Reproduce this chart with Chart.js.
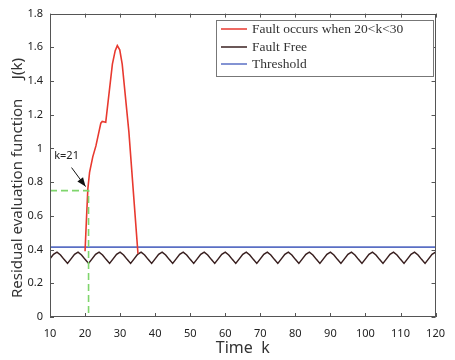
<!DOCTYPE html>
<html><head><meta charset="utf-8">
<script src="https://cdn.jsdelivr.net/npm/chart.js@4/dist/chart.umd.min.js"></script>
<style>html,body{margin:0;padding:0;background:#fff}#wrap{width:455px;height:360px}</style>
</head><body><div id="wrap"><canvas id="c" width="455" height="360"></canvas></div>
<script>
// ---- data ----
const faultFreeK = [10,11,12,13,14,15,16,17,18,19,20,21,22,23,24,25,26,27,28,29,30,31,32,33,34,35,36,37,38,39,40,41,42,43,44,45,46,47,48,49,50,51,52,53,54,55,56,57,58,59,60,61,62,63,64,65,66,67,68,69,70,71,72,73,74,75,76,77,78,79,80,81,82,83,84,85,86,87,88,89,90,91,92,93,94,95,96,97,98,99,100,101,102,103,104,105,106,107,108,109,110,111,112,113,114,115,116,117,118,119,120];
const faultFreeJ = [
 0.345,0.372,0.385,0.368,0.342,
 0.318,0.345,0.372,0.385,0.368,0.342,
 0.318,0.345,0.372,0.385,0.368,0.342,
 0.318,0.345,0.372,0.385,0.368,0.342,
 0.318,0.345,0.372,0.385,0.368,0.342,
 0.318,0.345,0.372,0.385,0.368,0.342,
 0.318,0.345,0.372,0.385,0.368,0.342,
 0.318,0.345,0.372,0.385,0.368,0.342,
 0.318,0.345,0.372,0.385,0.368,0.342,
 0.318,0.345,0.372,0.385,0.368,0.342,
 0.318,0.345,0.372,0.385,0.368,0.342,
 0.318,0.345,0.372,0.385,0.368,0.342,
 0.318,0.345,0.372,0.385,0.368,0.342,
 0.318,0.345,0.372,0.385,0.368,0.342,
 0.318,0.345,0.372,0.385,0.368,0.342,
 0.318,0.345,0.372,0.385,0.368,0.342,
 0.318,0.345,0.372,0.385,0.368,0.342,
 0.318,0.345,0.372,0.385,0.368,0.342,
 0.318,0.345,0.372,0.385
];
const faultK = [20,20.4,20.8,21.3,22.2,23.1,24.5,24.9,25.9,27.8,28.6,29.2,29.9,30.6,32.5,33.9,35.1];
const faultJ = [0.39,0.58,0.76,0.86,0.95,1.015,1.15,1.16,1.155,1.50,1.58,1.61,1.585,1.50,1.10,0.71,0.375];
const thresholdK = [10,120];
const thresholdJ = [0.415,0.415];
const guideK = [10,21,21];
const guideJ = [0.75,0.75,0];
const xTicks = [10,20,30,40,50,60,70,80,90,100,110,120];
const xTickLabels = ['10','20','30','40','50','60','70','80','90','100','110','120'];
const yTicks = [0,0.2,0.4,0.6,0.8,1,1.2,1.4,1.6,1.8];
const yTickLabels = ['0','0.2','0.4','0.6','0.8','1','1.2','1.4','1.6','1.8'];
const seriesLabels = ['Fault occurs when 20<k<30','Fault Free','Threshold'];
const annotationText = 'k=21';
const annotationK = 21, annotationJ = 0.75;
const xTitle = 'Time  k';
const yTitle = 'Residual evaluation function     J(k)';

const pts = (xs, ys) => xs.map((x, i) => ({x: x, y: ys[i]}));
const tickFont = {family: 'Noto Sans', size: 11};
const axisColor = '#555';

const framePlugin = {
  id: 'frame',
  afterDatasetsDraw(chart) {
    const {ctx, chartArea: a, scales: {x, y}} = chart;
    ctx.save();
    // box
    ctx.strokeStyle = axisColor; ctx.lineWidth = 1;
    ctx.strokeRect(Math.round(a.left) + 0.5, Math.round(a.top) + 0.5, Math.round(a.right - a.left) - 1, Math.round(a.bottom - a.top) - 1);
    // inward ticks on all four sides
    ctx.beginPath();
    const tl = 4;
    xTicks.forEach(v => {
      const px = Math.round(x.getPixelForValue(v)) + 0.5;
      ctx.moveTo(px, a.bottom); ctx.lineTo(px, a.bottom - tl);
      ctx.moveTo(px, a.top); ctx.lineTo(px, a.top + tl);
    });
    yTicks.forEach(v => {
      const py = Math.round(y.getPixelForValue(v)) + 0.5;
      ctx.moveTo(a.left, py); ctx.lineTo(a.left + tl, py);
      ctx.moveTo(a.right, py); ctx.lineTo(a.right - tl, py);
    });
    ctx.stroke();

    // annotation arrow + text
    const tx = x.getPixelForValue(annotationK), ty = y.getPixelForValue(annotationJ);
    const ex = tx - 3, ey = ty - 4, sx = tx - 17, sy = ty - 23;
    ctx.strokeStyle = '#111'; ctx.fillStyle = '#111'; ctx.lineWidth = 1;
    ctx.beginPath(); ctx.moveTo(sx, sy); ctx.lineTo(ex, ey); ctx.stroke();
    const ang = Math.atan2(ey - sy, ex - sx), hl = 9, hw = 3.5;
    ctx.beginPath();
    ctx.moveTo(ex, ey);
    ctx.lineTo(ex - hl * Math.cos(ang) + hw * Math.sin(ang), ey - hl * Math.sin(ang) - hw * Math.cos(ang));
    ctx.lineTo(ex - hl * Math.cos(ang) - hw * Math.sin(ang), ey - hl * Math.sin(ang) + hw * Math.cos(ang));
    ctx.closePath(); ctx.fill();
    ctx.font = '11px "Noto Sans"'; ctx.textAlign = 'center'; ctx.textBaseline = 'middle';
    ctx.fillStyle = '#222';
    ctx.fillText(annotationText, tx - 22, ty - 35);

    // y title
    ctx.save();
    ctx.translate(18, 178); ctx.rotate(-Math.PI / 2);
    ctx.font = '15px "Noto Sans"'; ctx.fillStyle = '#333'; ctx.textAlign = 'center'; ctx.textBaseline = 'middle';
    ctx.fillText(yTitle, 0, 0);
    ctx.restore();
    // x title
    ctx.font = '16px "Noto Sans"'; ctx.fillStyle = '#333'; ctx.textAlign = 'center'; ctx.textBaseline = 'middle';
    ctx.fillText(xTitle, (a.left + a.right) / 2, 348);

    // legend
    const ds = chart.data.datasets.slice(1);
    const lx = 216, ly = 20, lw = 433 - 216, lh = 56;
    ctx.fillStyle = '#fff'; ctx.fillRect(lx, ly, lw, lh);
    ctx.strokeStyle = '#777'; ctx.lineWidth = 1;
    ctx.strokeRect(lx + 0.5, ly + 0.5, lw, lh);
    ctx.font = '13.5px "Liberation Serif"'; ctx.textAlign = 'left'; ctx.textBaseline = 'middle';
    const rows = [29, 47, 64];
    ds.forEach((d, i) => {
      ctx.strokeStyle = d.borderColor; ctx.lineWidth = 1.5;
      ctx.beginPath(); ctx.moveTo(lx + 5, rows[i]); ctx.lineTo(247, rows[i]); ctx.stroke();
      ctx.fillStyle = '#333';
      ctx.fillText(d.label, 252, rows[i]);
    });
    ctx.restore();
  }
};

new Chart(document.getElementById('c'), {
  type: 'line',
  data: {
    datasets: [
      {label: 'guide', data: pts(guideK, guideJ), borderColor: '#7fd56c', borderDash: [7, 4], borderWidth: 1.6, pointRadius: 0, tension: 0},
      {label: seriesLabels[0], data: pts(faultK, faultJ), borderColor: '#e8392f', borderWidth: 1.6, pointRadius: 0, tension: 0},
      {label: seriesLabels[1], data: pts(faultFreeK, faultFreeJ), borderColor: '#3a2020', borderWidth: 1.5, pointRadius: 0, tension: 0},
      {label: seriesLabels[2], data: pts(thresholdK, thresholdJ), borderColor: '#5a6fc4', borderWidth: 1.8, pointRadius: 0, tension: 0}
    ]
  },
  options: {
    responsive: false, animation: false, devicePixelRatio: 1,
    layout: {padding: {top: 12, right: 12, left: 0, bottom: 0}},
    plugins: {legend: {display: false}, tooltip: {enabled: false}},
    scales: {
      x: {
        type: 'linear', min: 10, max: 120,
        afterBuildTicks: s => { s.ticks = xTicks.map(v => ({value: v})); },
        ticks: {font: tickFont, color: '#222', padding: 10, maxRotation: 0, autoSkip: false,
          callback: (v) => xTickLabels[xTicks.indexOf(v)]},
        grid: {display: false, drawTicks: false}, border: {display: false},
        afterFit: s => { s.height = 43; }
      },
      y: {
        type: 'linear', min: 0, max: 1.8,
        afterBuildTicks: s => { s.ticks = yTicks.map(v => ({value: v})); },
        ticks: {font: tickFont, color: '#222', padding: 7,
          callback: (v) => yTickLabels[yTicks.indexOf(v)]},
        grid: {display: false, drawTicks: false}, border: {display: false},
        afterFit: s => { s.width = 50; }
      }
    }
  },
  plugins: [framePlugin]
});
</script></body></html>
